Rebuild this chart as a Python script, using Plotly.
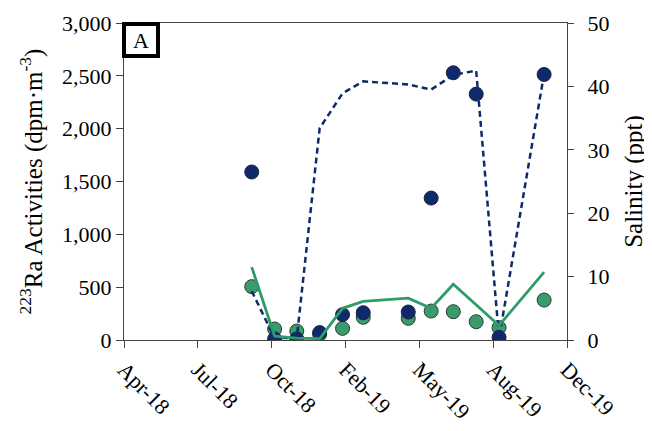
import plotly.graph_objects as go

dates = ["2018-09-30", "2018-10-31", "2018-11-30", "2018-12-31", "2019-01-31", "2019-02-28",
         "2019-04-30", "2019-05-31", "2019-06-30", "2019-07-31", "2019-08-31", "2019-10-31"]
ra_navy = [1590, 10, 10, 70, 240, 258, 265, 1343, 2529, 2327, 25, 2513]
ra_green = [505, 104, 85, 55, 110, 215, 205, 274, 268, 173, 117, 378]
sal_navy = [7.7, 0.3, 0.3, 33.4, 38.9, 40.8, 40.3, 39.5, 41.8, 42.5, 0.3, 42.0]
sal_green = [11.5, 0.6, 0.3, 0.2, 5.0, 6.1, 6.6, 5.0, 8.8, 5.6, 2.3, 10.7]

tick_dates = ["2018-04-10", "2018-07-19", "2018-10-27", "2019-02-04", "2019-05-15", "2019-08-23", "2019-12-01"]
tick_text = ["Apr-18", "Jul-18", "Oct-18", "Feb-19", "May-19", "Aug-19", "Dec-19"]
left_ticks = [0, 500, 1000, 1500, 2000, 2500, 3000]
right_ticks = [0, 10, 20, 30, 40, 50]

NAVY = "#0f2a6c"
GREEN_M = "#3a9b6c"
GREEN_L = "#2e9c68"
FONT = "Liberation Serif"

fig = go.Figure()
fig.add_trace(go.Scatter(x=dates, y=ra_green, mode="markers",
                         marker=dict(size=14, color=GREEN_M, line=dict(color="#2b3a33", width=1)),
                         showlegend=False))
fig.add_trace(go.Scatter(x=dates, y=ra_navy, mode="markers",
                         marker=dict(size=14, color=NAVY, line=dict(color="#1b2238", width=1)),
                         showlegend=False))
fig.add_trace(go.Scatter(x=dates, y=sal_navy, mode="lines", yaxis="y2",
                         line=dict(color=NAVY, width=2.5, dash="6px,4px"), showlegend=False))
fig.add_trace(go.Scatter(x=dates, y=sal_green, mode="lines", yaxis="y2",
                         line=dict(color=GREEN_L, width=2.8), showlegend=False))

axis_col = "#444444"
fig.update_layout(
    width=644, height=423,
    margin=dict(l=116, r=85, t=15, b=91),
    paper_bgcolor="white", plot_bgcolor="white",
    font=dict(family=FONT, size=22, color="black"),
    xaxis=dict(type="date", range=["2018-04-10", "2019-12-01"], automargin=False,
               tickvals=tick_dates, ticktext=tick_text, tickangle=45,
               showgrid=False, zeroline=False,
               showline=True, linecolor=axis_col, linewidth=1, mirror=True,
               ticks="outside", ticklen=7, tickcolor=axis_col,
               tickfont=dict(family=FONT, size=22)),
    yaxis=dict(range=[0, 3000], tickvals=left_ticks, tickformat=",", automargin=False,
               showgrid=False, zeroline=False,
               showline=True, linecolor=axis_col, linewidth=1,
               ticks="outside", ticklen=7, tickcolor=axis_col,
               tickfont=dict(family=FONT, size=22),
               title=dict(text="<sup>223</sup>Ra Activities (dpm·m<sup>-3</sup>)",
                          font=dict(family=FONT, size=25), standoff=12)),
    yaxis2=dict(range=[0, 50], tickvals=right_ticks, overlaying="y", side="right", automargin=False,
                showgrid=False, zeroline=False,
                showline=True, linecolor=axis_col, linewidth=1,
                ticks="outside", ticklen=6, tickcolor=axis_col,
                ticklabelstandoff=9,
                tickfont=dict(family=FONT, size=22),
                title=dict(text="Salinity (ppt)", font=dict(family=FONT, size=25), standoff=16)),
)

fig.add_annotation(xref="paper", yref="paper", x=-2 / 443, y=1 + 1 / 317,
                   xanchor="left", yanchor="top", text="A", showarrow=False,
                   font=dict(family=FONT, size=22, color="black"),
                   bordercolor="black", borderwidth=4, borderpad=0,
                   bgcolor="white", width=30, height=28)

fig.write_html("out.html")
